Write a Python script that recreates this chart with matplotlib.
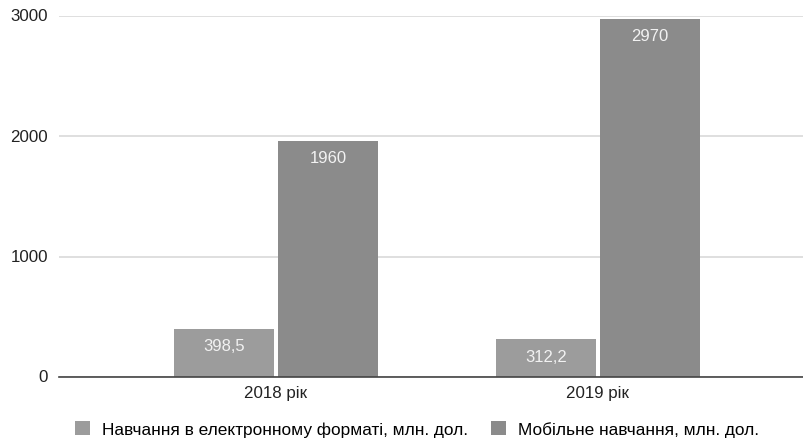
import matplotlib
matplotlib.use("Agg")
import matplotlib.pyplot as plt
import numpy as np

plt.rcParams['font.family'] = ['Liberation Sans', 'DejaVu Sans']

categories = ["2018 рік", "2019 рік"]
series_names = ["Навчання в електронному форматі, млн. дол.",
                "Мобільне навчання, млн. дол."]
elearning = [398.5, 312.2]
mobile = [1960, 2970]
labels_elearning = ["398,5", "312,2"]
labels_mobile = ["1960", "2970"]
yticks = [0, 1000, 2000, 3000]

colors = ["#9c9c9c", "#8b8b8b"]

fig = plt.figure(figsize=(8.04, 4.39), dpi=100)
ax = fig.add_axes([59 / 804, 61 / 439, 745 / 804, 361.5 / 439])

x = np.arange(len(categories))
w = 0.31
off = 0.161
b1 = ax.bar(x - off, elearning, width=w, color=colors[0], label=series_names[0], zorder=3)
b2 = ax.bar(x + off, mobile, width=w, color=colors[1], label=series_names[1], zorder=3)

for bars, labs in ((b1, labels_elearning), (b2, labels_mobile)):
    for rect, lab in zip(bars, labs):
        ax.annotate(lab, (rect.get_x() + rect.get_width() / 2, rect.get_height()),
                    xytext=(0, -12), textcoords="offset points",
                    ha="center", va="center", color="#f2f2f2", fontsize=12, zorder=4)

ax.set_xlim(-0.674, 1.64)
ax.set_ylim(0, 3000)
ax.set_yticks(yticks)
ax.set_yticklabels([str(v) for v in yticks])
ax.set_xticks(x)
ax.set_xticklabels(categories)
ax.tick_params(axis="both", length=0, labelsize=12.2, colors="#222222")
ax.tick_params(axis="y", pad=8)
ax.tick_params(axis="x", pad=6)
for lab in ax.get_yticklabels():
    lab.set_verticalalignment("center")

ax.grid(axis="y", color="#d9d9d9", linewidth=1.2, zorder=0)
for s in ("top", "right", "left"):
    ax.spines[s].set_visible(False)
ax.spines["bottom"].set_color("#444444")
ax.spines["bottom"].set_linewidth(1.2)
ax.spines["bottom"].set_zorder(5)

fig.legend(loc="center left", bbox_to_anchor=(75 / 804, 9 / 439), ncol=2,
           frameon=False, fontsize=12.4, handlelength=0.87, handleheight=0.87,
           handletextpad=0.7, columnspacing=1.35, borderaxespad=0, borderpad=0)

fig.savefig("out.png", dpi=100, facecolor="white")
